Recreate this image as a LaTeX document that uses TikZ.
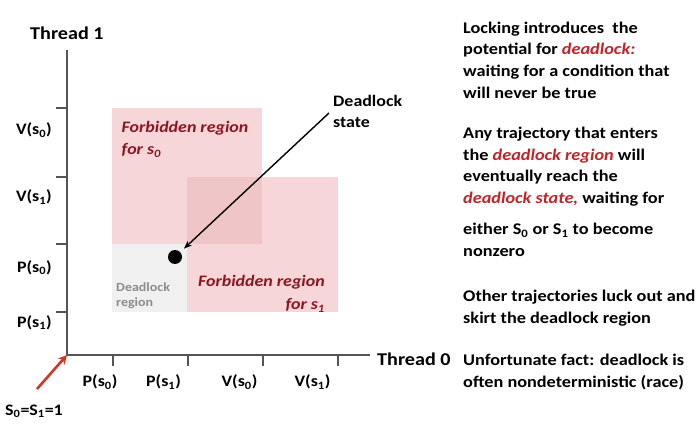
\documentclass[tikz,border=0pt]{standalone}
\usepackage{fontspec}
\setmainfont{Carlito}[FakeStretch=1.12]
\usetikzlibrary{arrows.meta}
\definecolor{pinkA}{RGB}{246,214,216}
\definecolor{pinkB}{RGB}{239,197,200}
\definecolor{grayR}{RGB}{240,240,240}
\definecolor{darkred}{RGB}{140,22,32}
\definecolor{redtxt}{RGB}{192,35,40}
\definecolor{axisc}{RGB}{85,85,85}
\definecolor{arrowred}{RGB}{205,55,35}
\definecolor{graytxt}{RGB}{140,140,140}
\newcommand{\sub}[1]{\textsubscript{#1}}
\begin{document}
\begin{tikzpicture}[x=1pt,y=-1pt,
  axis/.style={draw=axisc,line width=1.3pt},
  tick/.style={draw=axisc,line width=1.3pt},
  lab/.style={inner sep=0pt,anchor=base,font=\fontsize{16}{19}\selectfont\bfseries},
  big/.style={inner sep=0pt,anchor=base west,font=\fontsize{18}{20}\selectfont\bfseries},
  forb/.style={inner sep=0pt,text=darkred,font=\fontsize{16}{22}\selectfont\bfseries\itshape},
  dreg/.style={inner sep=0pt,anchor=base west,text=graytxt,font=\fontsize{12.5}{17}\selectfont\bfseries},
  dst/.style={inner sep=0pt,anchor=base west,font=\fontsize{16}{22}\selectfont\bfseries},
  ln/.style={inner sep=0pt,anchor=base west,font=\fontsize{16.3}{21.5}\selectfont\bfseries},
  hl/.style={text=redtxt}]
\useasboundingbox (0,0) rectangle (700,427);
% regions
\fill[pinkA] (112,108) rectangle (262,244);
\fill[pinkA] (187,177) rectangle (338,312);
\fill[pinkB] (187,177) rectangle (262,244);
\fill[grayR] (112,244) rectangle (187,312);
% axes
\coordinate (O) at (67,355);
\coordinate (ytop) at (67,50);
\coordinate (xend) at (370,355);
\draw[axis] (ytop) -- (O) -- (xend);
\foreach \yy/\nm in {108/a,177/b,244/c,312/d}{
  \coordinate (yt\nm) at (56,\yy);
  \coordinate (ys\nm) at (67,\yy);
  \draw[tick] (yt\nm) -- (ys\nm);
}
\foreach \xx/\nm in {113/a,188/b,263/c,338/d}{
  \coordinate (xt\nm) at (\xx,355);
  \coordinate (xs\nm) at (\xx,366);
  \draw[tick] (xt\nm) -- (xs\nm);
}
\node[big] (t1) at (30,39.5) {Thread 1};
\node[big] (t0) at (377,365.5) {Thread 0};
% y labels
\node[lab,anchor=base east] (yl1) at (52,135) {V(s\sub{0})};
\node[lab,anchor=base east] (yl2) at (52,201.5) {V(s\sub{1})};
\node[lab,anchor=base east] (yl3) at (52,272) {P(s\sub{0})};
\node[lab,anchor=base east] (yl4) at (52,327) {P(s\sub{1})};
% x labels
\node[lab] (xl1) at (100,386.5) {P(s\sub{0})};
\node[lab] (xl2) at (163.5,386.5) {P(s\sub{1})};
\node[lab] (xl3) at (239.5,386.5) {V(s\sub{0})};
\node[lab] (xl4) at (312.5,386.5) {V(s\sub{1})};
% origin
\node[lab,anchor=base west] (init) at (5,415) {S\sub{0}=S\sub{1}=1};
\coordinate (ra) at (37,389);
\draw[arrowred,line width=2.6pt,-{Stealth[length=9pt,width=9pt]}] (ra) -- (O);
% region texts
\node[forb,anchor=base west] (f0a) at (121.5,132.5) {Forbidden region};
\node[forb,anchor=base west] (f0b) at (121.5,155) {for s\sub{0}};
\node[forb,anchor=base east] (f1a) at (325,286.5) {Forbidden region};
\node[forb,anchor=base east] (f1b) at (325,309.5) {for s\sub{1}};
\node[dreg] (dra) at (116,291.5) {Deadlock};
\node[dreg] (drb) at (116,306.5) {region};
% deadlock state
\node[circle,fill=black,minimum size=14pt,inner sep=0pt] (dot) at (175,257) {};
\node[dst] (dsa) at (333,107) {Deadlock};
\node[dst] (dsb) at (333,128) {state};
\coordinate (as) at (329,113);
\draw[black,line width=1.4pt,-{Stealth[length=8pt,width=6pt]},shorten >=5pt] (as) -- (dot);
% right texts
\node[ln] (p1a) at (463,33.3) {Locking introduces\ \ the};
\node[ln] (p1b) at (463,55) {potential for \textcolor{redtxt}{\itshape deadlock:}};
\node[ln] (p1c) at (463,76.7) {waiting for a condition that};
\node[ln] (p1d) at (463,98.3) {will never be true};
\node[ln] (p2a) at (463,139) {Any trajectory that enters};
\node[ln] (p2b) at (463,160.5) {the \textcolor{redtxt}{\itshape deadlock region} will};
\node[ln] (p2c) at (463,182) {eventually reach the};
\node[ln] (p2d) at (463,204) {\textcolor{redtxt}{\itshape deadlock state,} waiting for};
\node[ln] (p2e) at (463,234.5) {either S\sub{0} or S\sub{1} to become};
\node[ln] (p2f) at (463,257) {nonzero};
\node[ln] (p3a) at (463,301.5) {Other trajectories luck out and};
\node[ln] (p3b) at (463,323) {skirt the deadlock region};
\node[ln] (p4a) at (463,365.5) {Unfortunate fact: deadlock is};
\node[ln] (p4b) at (463,387) {often nondeterministic (race)};
\end{tikzpicture}
\end{document}
